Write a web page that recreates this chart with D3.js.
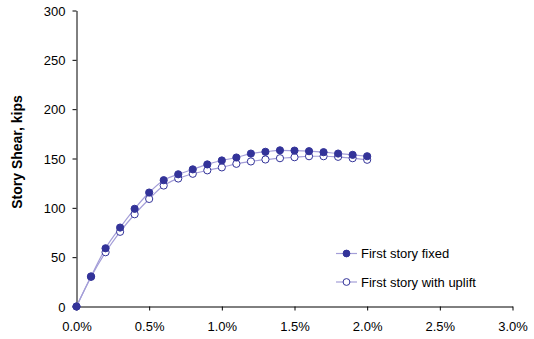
<!DOCTYPE html>
<html><head><meta charset="utf-8">
<script src="https://cdn.jsdelivr.net/npm/d3@7"></script>
<style>body{margin:0;background:#fff}svg{display:block}text{font-family:"Liberation Sans",Arial,sans-serif}</style>
</head><body><svg id="c" width="534" height="339"></svg>
<script>
const drift = [0,0.1,0.2,0.3,0.4,0.5,0.6,0.7,0.8,0.9,1.0,1.1,1.2,1.3,1.4,1.5,1.6,1.7,1.8,1.9,2.0];
const fixedShear = [0,30.5,59,80,99,115.5,128,134,139,144,148,151,155,156.8,158.3,158,157.4,156.4,155,153.7,152.3];
const upliftShear = [0,30,55,75.7,93.5,109,122.6,129.7,134.5,138,141,144.6,147,149,150.3,151.3,152.3,152.3,151.7,150.3,148.7];
const xTicks = [0,0.5,1.0,1.5,2.0,2.5,3.0];
const yTicks = [0,50,100,150,200,250,300];
const seriesNames = ["First story fixed","First story with uplift"];

const svg = d3.select("#c");
const x = d3.scaleLinear().domain([0,3]).range([76.5,512.5]);
const y = d3.scaleLinear().domain([0,300]).range([306.5,10.5]);
const lineCol = "#a49ed8", markCol = "#333399";

const xa = svg.append("g").attr("transform","translate(0,306.5)")
  .call(d3.axisBottom(x).tickValues(xTicks).tickSize(4).tickSizeOuter(0).tickFormat(d=>d.toFixed(1)+"%"));
const ya = svg.append("g").attr("transform","translate(76.5,0)")
  .call(d3.axisLeft(y).tickValues(yTicks).tickSize(4).tickSizeOuter(0));
[xa,ya].forEach(g=>{g.select(".domain").attr("stroke","#000");g.selectAll(".tick line").attr("stroke","#000");
  g.selectAll("text").attr("font-size",13).attr("fill","#000").style("font-family","Liberation Sans, Arial, sans-serif");});
xa.selectAll("text").attr("y",24.5).attr("dy",0);
ya.selectAll("text").attr("x",-11).attr("dy","0.35em");

svg.append("text").attr("transform","translate(22,152) rotate(-90)").attr("text-anchor","middle")
  .attr("font-size",14).attr("font-weight","bold").text("Story Shear, kips");

const line = d3.line().x((d,i)=>x(drift[i])).y(d=>y(d)).curve(d3.curveMonotoneX);
[[fixedShear,true],[upliftShear,false]].forEach(([vals,filled])=>{
  svg.append("path").attr("d",line(vals)).attr("fill","none").attr("stroke",lineCol).attr("stroke-width",1.2);
});
[[upliftShear,false],[fixedShear,true]].forEach(([vals,filled])=>{
  svg.append("g").selectAll("circle").data(vals).join("circle")
    .attr("cx",(d,i)=>x(drift[i])).attr("cy",d=>y(d)).attr("r",3.6)
    .attr("fill",filled?markCol:"#fff").attr("stroke",markCol).attr("stroke-width",1);
});

const leg = svg.append("g");
[[253.5,true],[282,false]].forEach(([ly,filled],k)=>{
  leg.append("line").attr("x1",336).attr("x2",357).attr("y1",ly).attr("y2",ly).attr("stroke",lineCol).attr("stroke-width",1.2);
  leg.append("circle").attr("cx",346.5).attr("cy",ly).attr("r",3.4).attr("fill",filled?markCol:"#fff").attr("stroke",markCol);
  leg.append("text").attr("x",361).attr("y",ly+4.5).attr("font-size",13).text(seriesNames[k]);
});
</script></body></html>
